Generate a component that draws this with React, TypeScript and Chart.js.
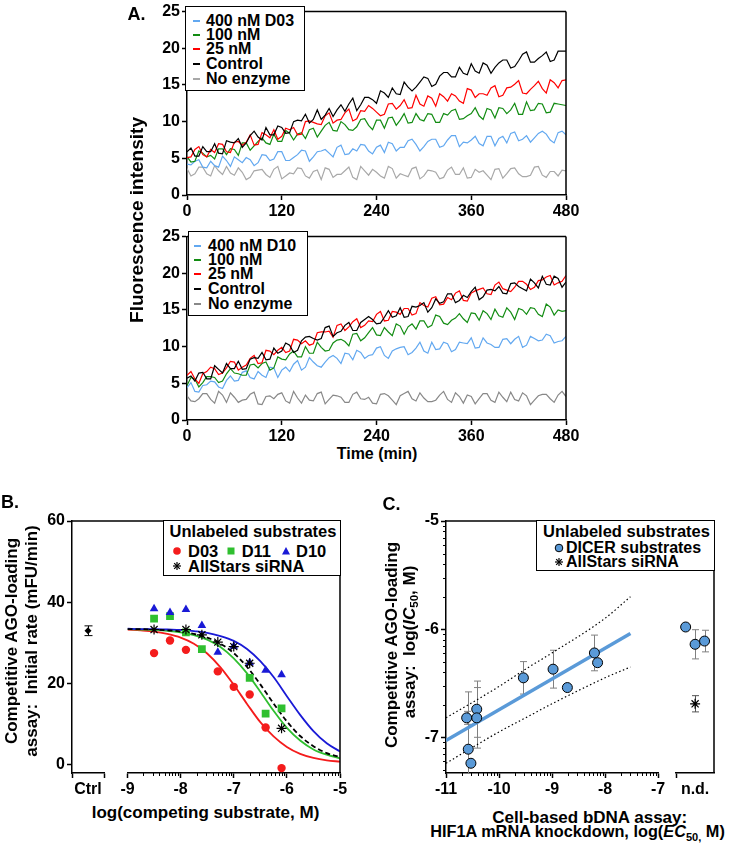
import React, { useEffect, useRef } from 'react';
import { Chart, registerables } from 'chart.js';

Chart.register(...registerables);

const FONT = '"Liberation Sans", Arial, Helvetica, sans-serif';
Chart.defaults.font.family = FONT;
Chart.defaults.color = '#000';

// ---------------- Panel A data ----------------
// readings every 10 min (on the decade) and the readings in between (at 5, 15, ... min)
const timeMin = [0,10,20,30,40,50,60,70,80,90,100,110,120,130,140,150,160,170,180,190,200,210,220,230,240,250,260,270,280,290,300,310,320,330,340,350,360,370,380,390,400,410,420,430,440,450,460,470,480];
const timeMinMid = [5,15,25,35,45,55,65,75,85,95,105,115,125,135,145,155,165,175,185,195,205,215,225,235,245,255,265,275,285,295,305,315,325,335,345,355,365,375,385,395,405,415,425,435,445,455,465,475];
const aXTicks = [0, 120, 240, 360, 480];
const aYTicks = [0, 5, 10, 15, 20, 25];

// top (D03)
const a1Control = [5.9,5.3,6.6,5.9,5.7,7.4,7.1,6.5,8.1,7.9, 9.2,8.2,9.2,8.5,10.2,11.0,10.3,10.3,11.8,11.6, 11.4,13.2,12.3,13.3,12.5,13.9,14.6,13.7,14.7,14.7, 16.1,14.8,16.2,16.7,16.1,16.6,17.9,16.6,17.7,17.4, 18.4,17.3,18.3,19.5,18.1,19.0,18.2,19.6,19.6];
const a1ControlMid = [6.4,5.3,5.9,7.0,5.6,7.2,7.7,7.1,8.7,7.5, 8.2,9.4,8.4,10.0,10.1,9.8,11.6,10.9,10.7,12.3, 12.4,11.5,13.3,13.0,14.2,13.3,13.8,15.4,14.2,15.4, 15.9,15.1,16.7,16.1,17.4,16.4,16.9,18.0,16.6,18.0, 18.4,17.5,19.2,18.1,18.6,19.5,18.4,19.6];
const a1Nm25 = [5.1,6.2,5.5,6.2,7.0,5.9,7.2,6.8,8.2,6.9, 8.2,8.9,8.0,8.9,8.2,10.0,9.9,9.6,11.2,10.2, 11.2,10.1,11.5,12.2,11.3,11.0,12.5,12.2,11.8,13.6, 12.1,13.2,13.8,12.8,13.5,12.5,14.3,13.8,13.6,14.9, 13.6,14.7,15.6,13.8,14.9,14.5,15.7,14.6,15.7];
const a1Nm25Mid = [5.2,6.6,5.2,5.8,6.9,5.8,7.3,7.2,6.8,8.5, 7.8,7.6,9.1,9.2,8.3,10.1,9.7,10.8,9.8,10.3, 11.7,10.4,11.4,11.8,10.8,12.4,11.7,13.0,11.9,12.4, 13.5,12.1,13.4,13.8,12.8,14.5,13.3,13.8,14.6,13.4, 14.6,15.1,13.9,14.4,15.5,13.9,15.3,15.6];
const a1Nm100 = [5.2,4.6,5.7,5.4,6.3,5.5,6.2,7.1,6.1,7.3, 7.1,8.3,7.3,8.4,8.3,7.7,9.1,8.7,9.9,8.7, 9.6,8.8,10.3,9.5,10.2,9.1,10.6,10.2,9.8,11.1, 10.1,11.0,9.9,10.9,11.7,10.4,11.1,10.8,11.8,10.5, 11.8,11.6,11.0,12.7,11.6,12.4,11.3,12.4,12.2];
const a1Nm100Mid = [4.5,6.0,5.2,4.9,6.3,6.3,5.4,7.1,6.7,7.8, 6.9,7.3,8.8,7.5,8.5,8.9,7.9,9.5,8.8,10.0, 8.9,9.3,10.4,8.9,10.2,10.5,9.5,11.1,9.9,10.3, 11.1,9.9,11.1,11.5,10.3,10.8,11.9,10.3,11.6,11.9, 11.1,12.5,11.0,11.5,12.5,11.2,12.5,12.3];
const a1Nm400 = [4.2,4.6,3.8,4.6,3.8,4.7,5.2,4.4,4.8,4.4, 5.4,4.9,5.9,4.7,5.5,6.0,5.2,6.0,5.7,6.5, 5.5,6.3,6.9,6.0,6.5,5.8,7.0,6.5,7.4,6.9, 6.6,7.6,6.5,7.5,8.1,7.2,7.5,7.0,8.0,6.7, 8.0,8.4,7.4,8.1,7.8,8.7,7.5,8.5,8.2];
const a1Nm400Mid = [4.1,4.8,3.7,4.0,5.3,3.9,4.8,5.1,4.0,5.5, 4.7,5.9,4.7,5.1,6.1,4.6,5.9,6.2,5.2,6.8, 5.6,6.0,6.8,5.6,6.8,7.2,6.0,6.5,7.6,6.0, 7.3,7.6,6.7,8.1,6.6,7.1,8.0,6.7,8.0,7.7, 7.1,8.6,7.6,7.2,8.4,8.3,7.1,8.7];
const a1NoEnz = [3.6,2.9,3.8,2.6,3.3,3.9,2.7,3.1,2.4,3.4, 2.8,3.5,2.2,3.0,3.7,2.6,3.2,2.1,3.5,2.8, 3.3,2.4,3.9,2.7,3.1,2.3,3.6,2.9,2.5,3.8, 2.6,3.3,2.2,3.4,2.8,3.7,2.4,3.1,2.7,3.5, 2.3,3.6,2.9,2.5,3.8,2.7,3.2,2.6,3.3];
const a1NoEnzMid = [2.6,3.8,2.9,4.0,2.8,3.0,3.7,2.1,3.3,3.5, 2.4,3.9,2.6,2.9,3.6,2.3,3.4,3.7,2.4,2.8, 3.8,2.1,3.3,3.5,2.6,3.9,2.3,2.7,3.6,2.2, 3.4,3.1,2.4,3.8,2.8,2.3,3.5,3.3,2.1,3.6, 2.9,3.7,2.5,2.7,3.9,2.4,3.2,3.4];

// bottom (D10)
const a2Control = [5.7,5.3,6.5,5.6,6.9,7.7,7.0,6.9,8.3,8.4, 8.2,9.8,9.4,10.2,9.5,11.3,11.1,11.1,12.8,11.9, 12.9,12.2,13.3,14.1,13.1,14.0,14.0,15.3,14.1,15.4, 16.0,15.3,15.9,17.2,16.0,17.0,17.5,16.4,17.7,17.6, 17.3,18.6,18.2,17.6,18.7,19.6,18.4,19.3,18.8];
const a2ControlMid = [6.0,6.4,5.6,7.4,6.4,7.0,8.0,7.0,8.5,9.2, 8.3,9.1,10.5,9.2,10.8,11.4,10.9,12.6,11.4,12.1, 13.3,12.2,13.7,13.7,13.2,14.9,14.2,14.0,15.5,15.6, 14.7,16.5,16.1,17.2,16.3,16.7,18.1,16.8,17.8,18.2, 17.2,18.7,17.9,19.2,18.0,18.5,19.6,18.1];
const a2Nm25 = [6.1,5.6,6.3,7.2,6.2,7.1,7.9,7.2,8.4,7.7, 9.5,8.9,9.9,9.4,10.9,10.8,10.4,12.0,12.1,12.9, 12.2,13.4,12.6,13.5,14.4,13.5,14.8,14.4,15.2,14.5, 15.6,16.6,15.7,16.7,17.3,16.3,17.3,17.8,17.2,18.4, 17.9,17.5,18.9,18.5,18.1,19.1,19.7,18.7,19.7];
const a2Nm25Mid = [6.6,5.0,6.6,7.0,6.4,8.0,6.8,7.5,8.8,7.8, 9.4,9.5,9.2,11.0,10.4,10.2,11.9,12.0,11.3,13.1, 12.7,13.8,12.9,13.4,14.8,13.6,14.7,15.2,14.3,16.0, 15.4,16.8,15.8,16.4,17.6,16.2,17.6,18.0,17.1,18.8, 17.7,18.1,18.9,17.8,19.0,19.5,18.4,18.9];
const a2Nm100 = [4.7,5.6,5.1,5.9,5.1,6.3,6.4,6.1,7.5,7.1, 7.9,7.1,8.3,9.0,8.6,10.0,9.1,9.9,9.5,10.9, 10.7,11.7,10.8,11.9,11.6,12.6,11.5,12.8,12.7,12.4, 13.5,12.9,14.1,13.0,13.9,13.8,14.6,13.6,14.5,15.1, 14.0,14.7,15.2,14.4,15.2,14.1,15.4,15.0,14.9];
const a2Nm100Mid = [5.8,4.5,5.9,5.8,5.3,7.0,6.3,6.1,7.6,7.7, 6.8,8.6,8.2,9.4,8.6,9.1,10.6,9.4,10.5,11.0, 10.1,11.8,11.2,12.6,11.5,12.0,13.1,11.7,13.1,13.5, 12.6,14.3,13.2,13.6,14.5,13.3,14.5,14.9,13.7,14.2, 15.3,13.7,15.0,15.3,14.4,15.8,14.3,14.8];
const a2Nm400 = [4.4,3.9,4.7,5.3,4.5,5.4,5.3,6.5,5.8,6.6, 5.8,7.1,6.8,6.6,8.1,7.2,7.9,7.2,8.5,8.4, 9.1,8.2,9.2,8.8,9.8,8.8,9.4,9.9,8.9,9.8, 9.4,10.6,9.7,10.4,9.6,10.5,11.2,9.9,10.5,9.9, 11.0,10.4,11.4,10.2,11.1,10.9,11.5,10.7,11.4];
const a2Nm400Mid = [5.1,3.8,4.8,5.2,4.3,6.0,5.4,6.7,5.6,6.1, 7.2,5.8,7.2,7.6,6.8,8.5,7.4,7.9,8.8,7.7, 9.0,9.5,8.4,8.9,10.0,8.4,9.7,10.0,9.2,10.6, 9.1,9.6,10.6,9.3,10.6,10.4,9.8,11.2,10.3,9.9, 11.1,11.0,9.9,11.4,10.8,11.7,10.5,10.8];
const a2NoEnz = [3.3,2.5,3.6,2.8,3.9,2.4,3.1,2.7,3.5,2.2, 3.2,2.9,3.7,2.3,3.0,3.4,2.6,3.8,2.8,3.3, 2.4,3.5,2.9,3.1,2.2,3.6,2.7,3.3,3.9,2.6, 3.0,2.5,3.4,2.8,3.7,2.3,3.2,2.9,3.6,2.4, 3.1,3.8,2.6,3.3,2.7,3.5,2.9,3.4,3.2];
const a2NoEnzMid = [2.6,2.9,3.6,2.3,3.4,3.7,2.4,2.8,3.8,2.1, 3.3,3.5,2.6,3.9,2.3,2.7,3.6,2.2,3.4,3.1, 2.4,3.8,2.8,2.3,3.5,3.3,2.1,3.6,2.9,3.7, 2.5,2.7,3.9,2.4,3.2,3.4,2.2,3.6,2.7,3.8, 2.5,2.8,3.7,2.1,3.3,3.5,2.4,3.9];

const aLegendTop = ['400 nM D03', '100 nM', '25 nM', 'Control', 'No enzyme'];
const aLegendBottom = ['400 nM D10', '100 nM', '25 nM', 'Control', 'No enzyme'];

// ---------------- Panel B data ----------------
const bXTicks = [-9, -8, -7, -6, -5];
const bYTicks = [0, 20, 40, 60];
const ctrlTicks = [0, 1, 2];
const ctrlX = [1];
const ctrlY = [33.0];
const ctrlErr = [1.2];

const d03X = [-8.5, -8.2, -7.9, -7.3, -7.0, -6.7, -6.4, -6.1];
const d03Y = [27.5, 30.6, 28.3, 23.0, 19.2, 17.3, 9.2, -0.8];
const d11X = [-8.5, -8.2, -7.9, -7.6, -6.7, -6.4, -6.1];
const d11Y = [36.0, 36.6, 32.6, 28.5, 21.4, 12.6, 13.9];
const d10X = [-8.5, -8.2, -7.9, -7.6, -7.3, -7.0, -6.7, -6.4, -6.1];
const d10Y = [38.4, 37.5, 38.2, 34.3, 27.7, 29.2, 25.1, 23.3, 22.2];
const allStarsX = [-8.5, -7.9, -7.6, -7.3, -7.0, -6.7, -6.1];
const allStarsY = [33.3, 33.3, 32.0, 30.2, 29.1, 25.0, 9.0];

const curveX = [-9, -8.75, -8.5, -8.25, -8, -7.75, -7.5, -7.25, -7, -6.75, -6.5, -6.25, -6, -5.75, -5.5, -5.25, -5];
const fitD03 = [33.3, 33.1, 32.8, 32.2, 31.3, 29.8, 27.4, 24.0, 19.7, 15.0, 10.5, 7.0, 4.4, 2.7, 1.7, 1.1, 0.8];
const fitD11 = [33.4, 33.3, 33.2, 33.0, 32.6, 31.9, 30.8, 29.0, 26.2, 22.5, 18.0, 13.3, 9.1, 6.0, 3.8, 2.5, 1.6];
const fitAllStars = [33.4, 33.4, 33.3, 33.1, 32.8, 32.2, 31.3, 29.8, 27.5, 24.1, 19.8, 15.1, 10.7, 7.1, 4.6, 2.9, 1.9];
const fitD10 = [33.5, 33.4, 33.4, 33.3, 33.2, 32.9, 32.5, 31.7, 30.5, 28.5, 25.5, 21.6, 16.9, 12.3, 8.3, 5.3, 3.3];

// ---------------- Panel C data ----------------
const cXTicks = [-11, -10, -9, -8, -7];
const cYTicks = [-7, -6, -5];
const dicerX = [-10.61, -10.58, -10.53, -10.42, -10.42, -9.54, -8.98, -8.71, -8.20, -8.14];
const dicerY = [-6.82, -7.11, -7.24, -6.74, -6.82, -6.45, -6.37, -6.54, -6.22, -6.31];
const dicerErr = [0.06, 0.53, 0, 0.26, 0.28, 0.15, 0.175, 0, 0.165, 0];
const regX = [-11, -7.52];
const regY = [-7.03, -6.04];
const bandX = [-11, -10, -9.5, -9, -8, -7.52];
const bandUpper = [-6.82, -6.53, -6.37, -6.22, -5.90, -5.70];
const bandLower = [-7.24, -6.95, -6.82, -6.69, -6.45, -6.35];
const ndTicks = [0, 0.5];
const ndX = [0.25, 0.5, 0.75];
const ndY = [-5.98, -6.14, -6.11];
const ndErr = [0, 0.135, 0.1];
const ndStarX = [0.5];
const ndStarY = [-6.69];
const ndStarErr = [0.075];

// ---------------- colours ----------------
const A_BLUE = '#62a8f0';
const A_GREEN = '#128c12';
const A_RED = '#ff0000';
const A_GRAY1 = '#a8a8a8';
const A_GRAY2 = '#888888';
const B_RED = '#f41c1c';
const B_GREEN = '#2fbf2f';
const B_BLUE = '#1a1ad6';
const C_BLUE = '#5a9ad8';

const zip = (xs: number[], ys: number[]) => xs.map((x, i) => ({ x, y: ys[i] }));
const mergeSeries = (even: number[], odd: number[]) =>
  zip(timeMin, even).concat(zip(timeMinMid, odd)).sort((p, q) => p.x - q.x);

function logMinors(from: number, to: number, lo: number, hi: number) {
  const out: number[] = [];
  for (let d = from; d < to; d++) for (let k = 2; k <= 9; k++) {
    const v = d + Math.log10(k);
    if (v > lo && v < hi) out.push(v);
  }
  return out;
}

// ---------------- plugins ----------------
function framePlugin(id: string, topFrom: 'area' | 'canvas', topTo: 'area' | 'canvas', right: boolean) {
  return {
    id,
    afterDatasetsDraw(chart: any) {
      const { ctx, chartArea: a, width } = chart;
      ctx.save();
      ctx.strokeStyle = '#000';
      ctx.lineWidth = 1.5;
      ctx.beginPath();
      const x0 = topFrom === 'area' ? a.left : 0;
      const x1 = topTo === 'area' ? a.right : width;
      ctx.moveTo(x0, a.top);
      ctx.lineTo(x1, a.top);
      if (right) {
        ctx.moveTo(a.right, a.top);
        ctx.lineTo(a.right, a.bottom);
      }
      ctx.stroke();
      ctx.restore();
    },
  };
}

function minorTicksPlugin(id: string, axisId: 'x' | 'y', values: number[], len: number) {
  return {
    id,
    afterDraw(chart: any) {
      const s = chart.scales[axisId];
      const a = chart.chartArea;
      const ctx = chart.ctx;
      ctx.save();
      ctx.strokeStyle = '#000';
      ctx.lineWidth = 1;
      ctx.beginPath();
      values.forEach((v) => {
        const p = Math.round(s.getPixelForValue(v)) + 0.5;
        if (axisId === 'x') {
          ctx.moveTo(p, a.bottom);
          ctx.lineTo(p, a.bottom + len);
        } else {
          ctx.moveTo(a.left - len, p);
          ctx.lineTo(a.left, p);
        }
      });
      ctx.stroke();
      ctx.restore();
    },
  };
}

const errorBarPlugin = {
  id: 'errbars',
  beforeDatasetsDraw(chart: any) {
    const ctx = chart.ctx;
    const a = chart.chartArea;
    const ys = chart.scales.y;
    ctx.save();
    ctx.beginPath();
    ctx.rect(a.left - 10, a.top, a.right - a.left + 20, a.bottom - a.top);
    ctx.clip();
    chart.data.datasets.forEach((ds: any, i: number) => {
      if (!ds.errorBars) return;
      const meta = chart.getDatasetMeta(i);
      ctx.strokeStyle = ds.errorColor || '#000';
      ctx.lineWidth = 1;
      meta.data.forEach((pt: any, j: number) => {
        const e = ds.errorBars[j];
        if (!e) return;
        const v = ds.data[j].y;
        const yt = ys.getPixelForValue(v + e);
        const yb = ys.getPixelForValue(v - e);
        const x = Math.round(pt.x) + 0.5;
        const cw = ds.capHalf || 3.5;
        ctx.beginPath();
        ctx.moveTo(x, yt);
        ctx.lineTo(x, yb);
        ctx.moveTo(x - cw, yt);
        ctx.lineTo(x + cw, yt);
        ctx.moveTo(x - cw, yb);
        ctx.lineTo(x + cw, yb);
        ctx.stroke();
      });
    });
    ctx.restore();
  },
};

// ---------------- axis builder ----------------
function axis(o: {
  min: number; max: number; ticks: number[]; size: number; horizontal: boolean;
  label?: (v: number) => string; hideTick?: (v: number) => boolean; fontSize?: number; display?: boolean;
}) {
  return {
    type: 'linear',
    display: o.display === undefined ? true : o.display,
    min: o.min,
    max: o.max,
    afterBuildTicks: (s: any) => { s.ticks = o.ticks.map((v) => ({ value: v })); },
    afterFit: (s: any) => { if (o.horizontal) s.height = o.size; else s.width = o.size; },
    grid: {
      display: true, drawOnChartArea: false, drawTicks: true, tickLength: 5, tickWidth: 1.5,
      tickColor: (c: any) => (o.hideTick && c.tick && o.hideTick(c.tick.value) ? 'rgba(0,0,0,0)' : '#000'),
    },
    border: { display: true, color: '#000', width: 1.5 },
    ticks: {
      color: '#000',
      font: { family: FONT, size: o.fontSize || 16, weight: 'bold' },
      padding: 2, autoSkip: false, maxRotation: 0, minRotation: 0,
      callback: (v: any) => (o.label ? o.label(Number(v)) : String(v)),
    },
  };
}

const baseOpts = {
  responsive: false,
  animation: false,
  events: [] as string[],
};
const noLegend = { legend: { display: false }, tooltip: { enabled: false } };

// ---------------- chart configs ----------------
function makeA(series: { even: number[]; odd: number[]; color: string }[], xH: number, padTop: number) {
  return {
    type: 'line',
    data: {
      datasets: series.map((s) => ({
        data: mergeSeries(s.even, s.odd),
        borderColor: s.color,
        borderWidth: 1.2,
        pointRadius: 0,
        tension: 0,
        fill: false,
      })),
    },
    options: {
      ...baseOpts,
      layout: { padding: { top: padTop, right: 24, left: 0, bottom: 0 } },
      plugins: noLegend,
      scales: {
        x: axis({ min: 0, max: 480, ticks: aXTicks, size: xH, horizontal: true }),
        y: axis({ min: 0, max: 25, ticks: aYTicks, size: 67, horizontal: false }),
      },
    },
    plugins: [framePlugin('frameA', 'area', 'area', true)],
  };
}

function makeBCtrl() {
  return {
    type: 'scatter',
    data: {
      datasets: [
        {
          data: zip(ctrlX, ctrlY),
          pointStyle: 'rectRot', pointRadius: 3.5, backgroundColor: '#000', borderColor: '#000', borderWidth: 0,
          errorBars: ctrlErr, errorColor: '#000', capHalf: 4,
        },
      ],
    },
    options: {
      ...baseOpts,
      layout: { padding: { top: 16, right: 6, left: 0, bottom: 0 } },
      plugins: noLegend,
      scales: {
        x: axis({ min: 0, max: 2, ticks: ctrlTicks, size: 27, horizontal: true, label: (v) => (v === 1 ? 'Ctrl' : ''), hideTick: (v) => v === 1 }),
        y: axis({ min: -2, max: 60, ticks: bYTicks, size: 72, horizontal: false }),
      },
    },
    plugins: [errorBarPlugin, framePlugin('frameBC', 'area', 'canvas', false)],
  };
}

function makeBMain() {
  const curve = (ys: number[], color: string, dash: number[] = []) => ({
    data: zip(curveX, ys), showLine: true, pointRadius: 0, borderColor: color, borderWidth: 1.8,
    borderDash: dash, cubicInterpolationMode: 'monotone', fill: false,
  });
  return {
    type: 'scatter',
    data: {
      datasets: [
        { data: zip(allStarsX, allStarsY), pointStyle: 'star', pointRadius: 5, borderColor: '#000', backgroundColor: '#000', borderWidth: 1.2 },
        { data: zip(d10X, d10Y), pointStyle: 'triangle', pointRadius: 5, borderColor: B_BLUE, backgroundColor: B_BLUE, borderWidth: 0 },
        { data: zip(d11X, d11Y), pointStyle: 'rect', pointRadius: 5.5, borderColor: B_GREEN, backgroundColor: B_GREEN, borderWidth: 0 },
        { data: zip(d03X, d03Y), pointStyle: 'circle', pointRadius: 4.2, borderColor: B_RED, backgroundColor: B_RED, borderWidth: 0 },
        curve(fitAllStars, '#000', [5, 3]),
        curve(fitD10, B_BLUE),
        curve(fitD11, B_GREEN),
        curve(fitD03, B_RED),
      ],
    },
    options: {
      ...baseOpts,
      layout: { padding: { top: 16, right: 10, left: 17.5, bottom: 0 } },
      plugins: noLegend,
      scales: {
        x: axis({ min: -9, max: -5, ticks: bXTicks, size: 27, horizontal: true }),
        y: axis({ min: -2, max: 60, ticks: bYTicks, size: 0, horizontal: false, display: false }),
      },
    },
    plugins: [framePlugin('frameBM', 'canvas', 'area', true), minorTicksPlugin('minorBX', 'x', logMinors(-9, -5, -9, -5), 3)],
  };
}

function makeCMain() {
  return {
    type: 'scatter',
    data: {
      datasets: [
        {
          data: zip(dicerX, dicerY), pointStyle: 'circle', pointRadius: 5, backgroundColor: C_BLUE, borderColor: '#000', borderWidth: 1,
          errorBars: dicerErr, errorColor: '#808080', capHalf: 3.5,
        },
        { data: zip(regX, regY), showLine: true, pointRadius: 0, borderColor: C_BLUE, borderWidth: 3.5, fill: false },
        { data: zip(bandX, bandUpper), showLine: true, pointRadius: 0, borderColor: '#000', borderWidth: 1.2, borderDash: [1.5, 2.5], cubicInterpolationMode: 'monotone', fill: false },
        { data: zip(bandX, bandLower), showLine: true, pointRadius: 0, borderColor: '#000', borderWidth: 1.2, borderDash: [1.5, 2.5], cubicInterpolationMode: 'monotone', fill: false },
      ],
    },
    options: {
      ...baseOpts,
      layout: { padding: { top: 16, right: 12, left: 0, bottom: 0 } },
      plugins: noLegend,
      scales: {
        x: axis({ min: -11, max: -7, ticks: cXTicks, size: 27, horizontal: true }),
        y: axis({ min: -7.33, max: -5, ticks: cYTicks, size: 96, horizontal: false }),
      },
    },
    plugins: [
      errorBarPlugin,
      framePlugin('frameCM', 'area', 'canvas', false),
      minorTicksPlugin('minorCX', 'x', logMinors(-11, -7, -11, -7), 3),
      minorTicksPlugin('minorCY', 'y', logMinors(-8, -5, -7.33, -5), 3),
    ],
  };
}

function makeCNd() {
  return {
    type: 'scatter',
    data: {
      datasets: [
        {
          data: zip(ndStarX, ndStarY), pointStyle: 'star', pointRadius: 5, borderColor: '#000', borderWidth: 1.2,
          errorBars: ndStarErr, errorColor: '#555555', capHalf: 3.5,
        },
        {
          data: zip(ndX, ndY), pointStyle: 'circle', pointRadius: 5, backgroundColor: C_BLUE, borderColor: '#000', borderWidth: 1,
          errorBars: ndErr, errorColor: '#808080', capHalf: 3.5,
        },
      ],
    },
    options: {
      ...baseOpts,
      layout: { padding: { top: 16, right: 15, left: 6, bottom: 0 } },
      plugins: noLegend,
      scales: {
        x: axis({ min: 0, max: 1, ticks: ndTicks, size: 27, horizontal: true, label: (v) => (v === 0.5 ? 'n.d.' : ''), hideTick: (v) => v === 0.5 }),
        y: axis({ min: -7.33, max: -5, ticks: cYTicks, size: 0, horizontal: false, display: false }),
      },
    },
    plugins: [errorBarPlugin, framePlugin('frameCN', 'canvas', 'area', true)],
  };
}

// ---------------- components ----------------
function ChartCanvas({ left, top, width, height, make }: { left: number; top: number; width: number; height: number; make: () => any }) {
  const ref = useRef<HTMLCanvasElement | null>(null);
  useEffect(() => {
    if (!ref.current) return;
    const chart = new Chart(ref.current, make());
    return () => chart.destroy();
  }, []);
  return (
    <canvas
      ref={ref}
      width={width}
      height={height}
      style={{ position: 'absolute', left, top, width, height, display: 'block' }}
    />
  );
}

const textBase: React.CSSProperties = {
  position: 'absolute',
  fontFamily: FONT,
  fontWeight: 'bold',
  lineHeight: 1,
  whiteSpace: 'pre',
  color: '#000',
};

function CText({ x, y, size, rotate, children }: { x: number; y: number; size: number; rotate?: boolean; children: React.ReactNode }) {
  return (
    <div style={{ ...textBase, left: x, top: y, fontSize: size, transform: `translate(-50%, -50%)${rotate ? ' rotate(-90deg)' : ''}` }}>
      {children}
    </div>
  );
}

function LText({ x, y, size, children }: { x: number; y: number; size: number; children: React.ReactNode }) {
  return (
    <div style={{ ...textBase, left: x, top: y, fontSize: size, transform: 'translate(0, -50%)' }}>{children}</div>
  );
}

function Box({ left, top, width, height }: { left: number; top: number; width: number; height: number }) {
  return (
    <div style={{ position: 'absolute', left, top, width, height, border: '1.5px solid #000', background: '#fff', boxSizing: 'border-box' }} />
  );
}

function Dash({ x, y, color }: { x: number; y: number; color: string }) {
  return <div style={{ position: 'absolute', left: x, top: y - 1, width: 7, height: 2, background: color }} />;
}

function Marker({ x, y, kind, color }: { x: number; y: number; kind: string; color: string }) {
  const s = 10;
  return (
    <svg width={s} height={s} style={{ position: 'absolute', left: x - s / 2, top: y - s / 2 }}>
      {kind === 'circle' && <circle cx={5} cy={5} r={3.8} fill={color} />}
      {kind === 'circleO' && <circle cx={5} cy={5} r={3.8} fill={color} stroke="#000" strokeWidth={1} />}
      {kind === 'square' && <rect x={1.5} y={1.5} width={7} height={7} fill={color} />}
      {kind === 'triangle' && <polygon points="5,1 9,8.5 1,8.5" fill={color} />}
      {kind === 'star' && (
        <g stroke={color} strokeWidth={1.2}>
          <line x1={5} y1={1} x2={5} y2={9} />
          <line x1={1} y1={5} x2={9} y2={5} />
          <line x1={2.2} y1={2.2} x2={7.8} y2={7.8} />
          <line x1={7.8} y1={2.2} x2={2.2} y2={7.8} />
        </g>
      )}
    </svg>
  );
}

const Sub = ({ children }: { children: React.ReactNode }) => (
  <span style={{ fontSize: '0.68em', verticalAlign: '-0.3em' }}>{children}</span>
);

export default function App() {
  const aColors = [A_BLUE, A_GREEN, A_RED, '#000', A_GRAY1];
  const aColors2 = [A_BLUE, A_GREEN, A_RED, '#000', A_GRAY2];
  const topRows = [20.6, 34.8, 49.4, 64.0, 79.3];
  const botRows = [245.7, 260.0, 274.4, 289.0, 303.6];
  return (
    <div style={{ position: 'absolute', left: 0, top: 0, width: 729, height: 843, background: '#fff', overflow: 'hidden' }}>
      <ChartCanvas left={120} top={0} width={470} height={225} make={() => makeA([
        { even: a1Control, odd: a1ControlMid, color: '#000' },
        { even: a1Nm25, odd: a1Nm25Mid, color: A_RED },
        { even: a1Nm100, odd: a1Nm100Mid, color: A_GREEN },
        { even: a1Nm400, odd: a1Nm400Mid, color: A_BLUE },
        { even: a1NoEnz, odd: a1NoEnzMid, color: A_GRAY1 },
      ], 30, 7)} />
      <ChartCanvas left={120} top={225} width={470} height={220} make={() => makeA([
        { even: a2Control, odd: a2ControlMid, color: '#000' },
        { even: a2Nm25, odd: a2Nm25Mid, color: A_RED },
        { even: a2Nm100, odd: a2Nm100Mid, color: A_GREEN },
        { even: a2Nm400, odd: a2Nm400Mid, color: A_BLUE },
        { even: a2NoEnz, odd: a2NoEnzMid, color: A_GRAY2 },
      ], 25, 6)} />
      <ChartCanvas left={0} top={505} width={110} height={295} make={makeBCtrl} />
      <ChartCanvas left={110} top={505} width={240} height={295} make={makeBMain} />
      <ChartCanvas left={350} top={505} width={320} height={295} make={makeCMain} />
      <ChartCanvas left={670} top={505} width={59} height={295} make={makeCNd} />

      {/* Panel A texts */}
      <CText x={136.5} y={13.5} size={18}>A.</CText>
      <CText x={135.5} y={220} size={19} rotate>Fluorescence intensity</CText>
      <CText x={377} y={454} size={16}>Time (min)</CText>

      <Box left={185} top={6} width={120} height={85} />
      {aLegendTop.map((t, i) => (
        <React.Fragment key={'lt' + i}>
          <Dash x={192.5} y={topRows[i]} color={aColors[i]} />
          <LText x={206} y={topRows[i]} size={16}>{t}</LText>
        </React.Fragment>
      ))}
      <Box left={188} top={231} width={120} height={85} />
      {aLegendBottom.map((t, i) => (
        <React.Fragment key={'lb' + i}>
          <Dash x={194} y={botRows[i]} color={aColors2[i]} />
          <LText x={208} y={botRows[i]} size={16}>{t}</LText>
        </React.Fragment>
      ))}

      {/* Panel B texts */}
      <CText x={10} y={502} size={18}>B.</CText>
      <CText x={11} y={641} size={17} rotate>Competitive AGO-loading</CText>
      <CText x={31} y={641} size={17} rotate>{'assay:  Initial rate (mFU/min)'}</CText>
      <CText x={205.5} y={812} size={17}>log(competing substrate, M)</CText>
      <Box left={163} top={520} width={178} height={56} />
      <CText x={253} y={530.7} size={16.5}>Unlabeled substrates</CText>
      <Marker x={177.3} y={550.7} kind="circle" color={B_RED} />
      <LText x={188} y={550.7} size={16.5}>D03</LText>
      <Marker x={231} y={550.7} kind="square" color={B_GREEN} />
      <LText x={241.7} y={550.7} size={16.5}>D11</LText>
      <Marker x={286} y={550.7} kind="triangle" color={B_BLUE} />
      <LText x={296} y={550.7} size={16.5}>D10</LText>
      <Marker x={177.3} y={566.3} kind="star" color="#000" />
      <LText x={188} y={566.3} size={16.5}>AllStars siRNA</LText>

      {/* Panel C texts */}
      <CText x={391.5} y={503.5} size={18}>C.</CText>
      <CText x={391} y={645} size={17} rotate>Competitive AGO-loading</CText>
      <CText x={411} y={642} size={17} rotate>
        {'assay:  log('}<i>IC</i><Sub>50</Sub>{', M)'}
      </CText>
      <CText x={589.7} y={817} size={17}>Cell-based bDNA assay:</CText>
      <CText x={577.5} y={833} size={16.3}>
        {'HIF1A mRNA knockdown, log('}<i>EC</i><Sub>50,</Sub>{' M)'}
      </CText>
      <Box left={536} top={520} width={178.5} height={51} />
      <CText x={626.5} y={530.7} size={16.5}>Unlabeled substrates</CText>
      <Marker x={559} y={548} kind="circleO" color={C_BLUE} />
      <LText x={566} y={548} size={16}>DICER substrates</LText>
      <Marker x={559} y={562.3} kind="star" color="#000" />
      <LText x={566} y={562.3} size={16}>AllStars siRNA</LText>
    </div>
  );
}
